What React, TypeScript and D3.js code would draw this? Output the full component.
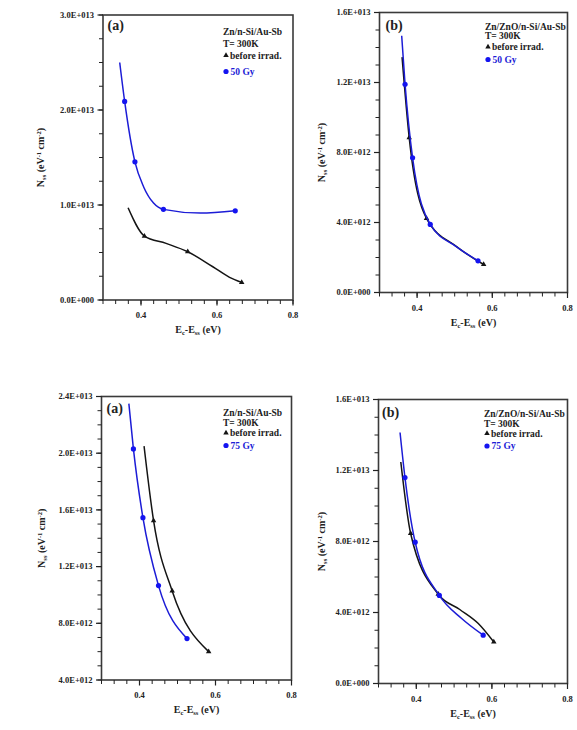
import * as d3 from "d3";

// Interface state density vs. energy, four panels (50 Gy top, 75 Gy bottom)

const xTicks = [0.4, 0.6, 0.8];
const xLabels = ["0.4", "0.6", "0.8"];

// (a) Zn/n-Si/Au-Sb, 50 Gy
const p1YTicks = [0, 1e13, 2e13, 3e13];
const p1YLabels = ["0.0E+000", "1.0E+013", "2.0E+013", "3.0E+013"];
const p1BlueX = [0.344, 0.357, 0.384, 0.407, 0.433, 0.459, 0.556, 0.648];
const p1BlueY = [2.5e13, 2.09e13, 1.454e13, 1.19e13, 1.02e13, 0.954e13, 0.915e13, 0.939e13];
const p1BlueMark = [false, true, true, false, false, true, false, true];
const p1BlackX = [0.366, 0.409, 0.466, 0.523, 0.589, 0.633, 0.665];
const p1BlackY = [0.971e13, 0.673e13, 0.596e13, 0.508e13, 0.35e13, 0.239e13, 0.186e13];
const p1BlackMark = [false, true, false, true, false, false, true];

// (b) Zn/ZnO/n-Si/Au-Sb, 50 Gy
const p2YTicks = [0, 4e12, 8e12, 1.2e13, 1.6e13];
const p2YLabels = ["0.0E+000", "4.0E+012", "8.0E+012", "1.2E+013", "1.6E+013"];
const p2BlueX = [0.359, 0.368, 0.388, 0.435, 0.505, 0.562];
const p2BlueY = [14.67e12, 11.9e12, 7.7e12, 3.89e12, 2.61e12, 1.81e12];
const p2BlueMark = [false, true, true, true, false, true];
const p2BlackX = [0.36, 0.379, 0.425, 0.505, 0.577];
const p2BlackY = [13.45e12, 8.85e12, 4.24e12, 2.62e12, 1.6e12];
const p2BlackMark = [false, true, true, false, true];

// (a) Zn/n-Si/Au-Sb, 75 Gy
const p3YTicks = [4e12, 8e12, 1.2e13, 1.6e13, 2e13, 2.4e13];
const p3YLabels = ["4.0E+012", "8.0E+012", "1.2E+013", "1.6E+013", "2.0E+013", "2.4E+013"];
const p3BlueX = [0.372, 0.384, 0.409, 0.45, 0.525];
const p3BlueY = [23.5e12, 20.3e12, 15.45e12, 10.66e12, 6.92e12];
const p3BlueMark = [false, true, true, true, true];
const p3BlackX = [0.412, 0.437, 0.486, 0.582];
const p3BlackY = [20.5e12, 15.24e12, 10.28e12, 6.0e12];
const p3BlackMark = [false, true, true, true];

// (b) Zn/ZnO/n-Si/Au-Sb, 75 Gy
const p4YTicks = [0, 4e12, 8e12, 1.2e13, 1.6e13];
const p4YLabels = ["0.0E+000", "4.0E+012", "8.0E+012", "1.2E+013", "1.6E+013"];
const p4BlueX = [0.357, 0.37, 0.397, 0.461, 0.52, 0.577];
const p4BlueY = [14.14e12, 11.6e12, 7.96e12, 4.96e12, 3.66e12, 2.72e12];
const p4BlueMark = [false, true, true, true, false, true];
const p4BlackX = [0.359, 0.385, 0.458, 0.515, 0.564, 0.605];
const p4BlackY = [12.48e12, 8.45e12, 5.03e12, 4.17e12, 3.38e12, 2.34e12];
const p4BlackMark = [false, true, true, false, false, true];

const BLUE = "#1c1cd6";
const BLUE_MARK = "#1414f0";
const BLACK = "#141414";
const FONT = "'Liberation Serif', 'Times New Roman', serif";

type Box = { l: number; t: number; r: number; b: number };
type Series = { xs: number[]; ys: number[]; mark: boolean[]; color: string; kind: "tri" | "dot" };

interface PanelProps {
  box: Box;
  yDomain: [number, number];
  yTicks: number[];
  yLabels: string[];
  yMinorStep: number;
  series: Series[];
  tag: string;
  tagPos: [number, number];
  legend: string[];
  legendX: number;
  legendYs: number[];
  titleDx: number;
}

function Marker({ kind, cx, cy, color }: { kind: string; cx: number; cy: number; color: string }) {
  if (kind === "dot") return <circle cx={cx} cy={cy} r={2.6} fill={color} />;
  const p = d3.symbol().type(d3.symbolTriangle).size(13)();
  return <path d={p || ""} transform={`translate(${cx},${cy})`} fill={color} />;
}

function Panel(props: PanelProps) {
  const { box, yDomain, yTicks, yLabels, yMinorStep, series, tag, tagPos, legend, legendX, legendYs, titleDx } = props;
  const x = d3.scaleLinear().domain([0.3, 0.8]).range([box.l, box.r]);
  const y = d3.scaleLinear().domain(yDomain).range([box.b, box.t]);

  const xMinor = d3.range(0, 16).map((i) => 0.3 + i / 30);
  const nY = Math.round((yDomain[1] - yDomain[0]) / yMinorStep);
  const yMinor = d3.range(0, nY + 1).map((i) => yDomain[0] + i * yMinorStep);

  const line = d3
    .line<[number, number]>()
    .x((d) => x(d[0]))
    .y((d) => y(d[1]))
    .curve(d3.curveMonotoneX);

  const cy = (box.t + box.b) / 2;
  const cx = (box.l + box.r) / 2;

  return (
    <g fontFamily={FONT} fontWeight="bold">
      {/* frame */}
      <rect x={box.l} y={box.t} width={box.r - box.l} height={box.b - box.t} fill="none" stroke="#3a3a3a" strokeWidth={1.6} />

      {/* y ticks */}
      {yMinor.map((v, i) => (
        <line key={"ym" + i} x1={box.l - 4} x2={box.l} y1={y(v)} y2={y(v)} stroke="#222" strokeWidth={1} />
      ))}
      {yTicks.map((v, i) => (
        <g key={"yt" + i}>
          <line x1={box.l - 5.5} x2={box.l} y1={y(v)} y2={y(v)} stroke="#222" strokeWidth={1.2} />
          <text x={box.l - 9} y={y(v) + 2.8} textAnchor="end" fontSize={8.5} fill="#222">
            {yLabels[i]}
          </text>
        </g>
      ))}

      {/* x ticks */}
      {xMinor.map((v, i) => (
        <line key={"xm" + i} x1={x(v)} x2={x(v)} y1={box.b} y2={box.b + 4} stroke="#222" strokeWidth={1} />
      ))}
      {xTicks.map((v, i) => (
        <g key={"xt" + i}>
          <line x1={x(v)} x2={x(v)} y1={box.b} y2={box.b + 5.5} stroke="#222" strokeWidth={1.2} />
          <text x={x(v)} y={box.b + 18} textAnchor="middle" fontSize={8.5} fill="#222">
            {xLabels[i]}
          </text>
        </g>
      ))}

      {/* axis titles */}
      <text x={cx} y={box.b + 33} textAnchor="middle" fontSize={10} fill="#222">
        E<tspan dy={2} fontSize={6.5}>c</tspan>
        <tspan dy={-2}>-E</tspan>
        <tspan dy={2} fontSize={6.5}>ss</tspan>
        <tspan dy={-2}> (eV)</tspan>
      </text>
      <text transform={`translate(${box.l + titleDx},${cy}) rotate(-90)`} textAnchor="middle" fontSize={10} fill="#222">
        N<tspan dy={2} fontSize={6.5}>ss</tspan>
        <tspan dy={-2}> (eV</tspan>
        <tspan dy={-3} fontSize={6.5}>-1</tspan>
        <tspan dy={3}> cm</tspan>
        <tspan dy={-3} fontSize={6.5}>-2</tspan>
        <tspan dy={3}>)</tspan>
      </text>

      {/* curves */}
      {series.map((s, si) => {
        const pts = s.xs.map((v, i) => [v, s.ys[i]] as [number, number]);
        return (
          <g key={"s" + si}>
            <path d={line(pts) || ""} fill="none" stroke={s.color} strokeWidth={1.5} />
            {pts.map((p, i) =>
              s.mark[i] ? (
                <Marker key={i} kind={s.kind} cx={x(p[0])} cy={y(p[1])} color={s.kind === "dot" ? BLUE_MARK : BLACK} />
              ) : null
            )}
          </g>
        );
      })}

      {/* panel tag */}
      <text x={tagPos[0]} y={tagPos[1]} fontSize={14} fill="#222">
        {tag}
      </text>

      {/* legend */}
      <g fontSize={9.5}>
        <text x={legendX} y={legendYs[0]} fill="#222">{legend[0]}</text>
        <text x={legendX} y={legendYs[1]} fill="#222">{legend[1]}</text>
        <Marker kind="tri" cx={legendX + 3} cy={legendYs[2] - 3} color={BLACK} />
        <text x={legendX + 7} y={legendYs[2]} fill="#222">{legend[2]}</text>
        <Marker kind="dot" cx={legendX + 3} cy={legendYs[3] - 3} color={BLUE_MARK} />
        <text x={legendX + 7.5} y={legendYs[3]} fill={BLUE}>{legend[3]}</text>
      </g>
    </g>
  );
}

export default function App() {
  return (
    <svg width={577} height={730} style={{ position: "absolute", left: 0, top: 0, background: "#fff" }}>
      <Panel
        box={{ l: 103, t: 15, r: 293, b: 300 }}
        yDomain={[0, 3e13]}
        yTicks={p1YTicks}
        yLabels={p1YLabels}
        yMinorStep={2.5e12}
        series={[
          { xs: p1BlackX, ys: p1BlackY, mark: p1BlackMark, color: BLACK, kind: "tri" },
          { xs: p1BlueX, ys: p1BlueY, mark: p1BlueMark, color: BLUE, kind: "dot" },
        ]}
        tag="(a)"
        tagPos={[107.5, 30]}
        legend={["Zn/n-Si/Au-Sb", "T= 300K", "before irrad.", "50 Gy"]}
        legendX={223}
        legendYs={[35, 47, 58.5, 74.5]}
        titleDx={-59}
      />
      <Panel
        box={{ l: 379.5, t: 12.5, r: 567.5, b: 292.5 }}
        yDomain={[0, 1.6e13]}
        yTicks={p2YTicks}
        yLabels={p2YLabels}
        yMinorStep={1e12}
        series={[
          { xs: p2BlackX, ys: p2BlackY, mark: p2BlackMark, color: BLACK, kind: "tri" },
          { xs: p2BlueX, ys: p2BlueY, mark: p2BlueMark, color: BLUE, kind: "dot" },
        ]}
        tag="(b)"
        tagPos={[385.5, 30]}
        legend={["Zn/ZnO/n-Si/Au-Sb", "T= 300K", "before irrad.", "50 Gy"]}
        legendX={485}
        legendYs={[29.5, 38.5, 50, 62.5]}
        titleDx={-55}
      />
      <Panel
        box={{ l: 101.5, t: 396.5, r: 291.5, b: 680 }}
        yDomain={[4e12, 2.4e13]}
        yTicks={p3YTicks}
        yLabels={p3YLabels}
        yMinorStep={1e12}
        series={[
          { xs: p3BlackX, ys: p3BlackY, mark: p3BlackMark, color: BLACK, kind: "tri" },
          { xs: p3BlueX, ys: p3BlueY, mark: p3BlueMark, color: BLUE, kind: "dot" },
        ]}
        tag="(a)"
        tagPos={[106.5, 413]}
        legend={["Zn/n-Si/Au-Sb", "T= 300K", "before irrad.", "75 Gy"]}
        legendX={223}
        legendYs={[416, 426, 436, 448.5]}
        titleDx={-57}
      />
      <Panel
        box={{ l: 378.5, t: 399.5, r: 567.5, b: 683.5 }}
        yDomain={[0, 1.6e13]}
        yTicks={p4YTicks}
        yLabels={p4YLabels}
        yMinorStep={1e12}
        series={[
          { xs: p4BlackX, ys: p4BlackY, mark: p4BlackMark, color: BLACK, kind: "tri" },
          { xs: p4BlueX, ys: p4BlueY, mark: p4BlueMark, color: BLUE, kind: "dot" },
        ]}
        tag="(b)"
        tagPos={[382, 416.5]}
        legend={["Zn/ZnO/n-Si/Au-Sb", "T= 300K", "before irrad.", "75 Gy"]}
        legendX={484}
        legendYs={[416.5, 426.5, 436.5, 449]}
        titleDx={-54}
      />
    </svg>
  );
}
